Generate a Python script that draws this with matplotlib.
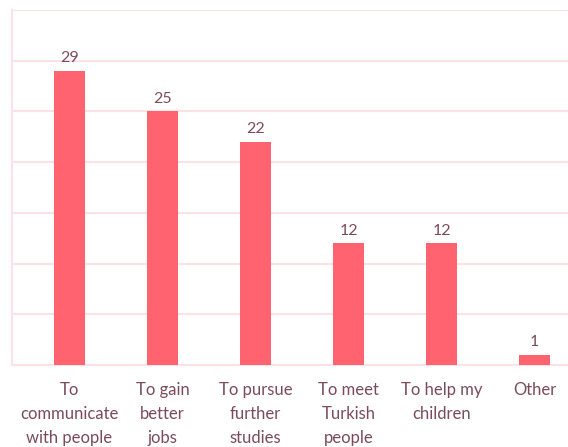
import matplotlib.pyplot as plt

# reasons for learning Turkish
categories = ['To\ncommunicate\nwith people', 'To gain\nbetter\njobs', 'To pursue\nfurther\nstudies',
              'To meet\nTurkish\npeople', 'To help my\nchildren', 'Other']
counts = [29, 25, 22, 12, 12, 1]

bar_color = '#ff6370'
text_color = '#7b4b5c'
grid_color = '#fde2e5'

plt.rcParams['font.family'] = ['Lato', 'DejaVu Sans']

fig = plt.figure(figsize=(5.68, 4.47), dpi=100)
ax = fig.add_axes([12 / 568, 82 / 447, 556 / 568, 355 / 447])

x = list(range(len(categories)))
bars = ax.bar(x, counts, width=0.333, color=bar_color, zorder=3)

for b, v in zip(bars, counts):
    ax.text(b.get_x() + b.get_width() / 2, v + 0.55, str(v), ha='center', va='bottom',
            fontsize=11.5, color=text_color)

ax.set_ylim(0, 35)
ax.set_xlim(-0.618, 5.36)
ax.set_yticks(range(0, 36, 5))
ax.yaxis.grid(True, color=grid_color, linewidth=1.5, zorder=0)
ax.tick_params(axis='y', left=False, labelleft=False)
ax.tick_params(axis='x', bottom=False, pad=9)
ax.set_xticks(x)
ax.set_xticklabels(categories, fontsize=12, color=text_color, linespacing=1.6, va='top')

for side in ['top', 'right']:
    ax.spines[side].set_visible(False)
ax.spines['left'].set_color(grid_color)
ax.spines['left'].set_linewidth(1.5)
ax.spines['bottom'].set_color(grid_color)
ax.spines['bottom'].set_linewidth(1.5)

fig.savefig('out.png', dpi=100)
